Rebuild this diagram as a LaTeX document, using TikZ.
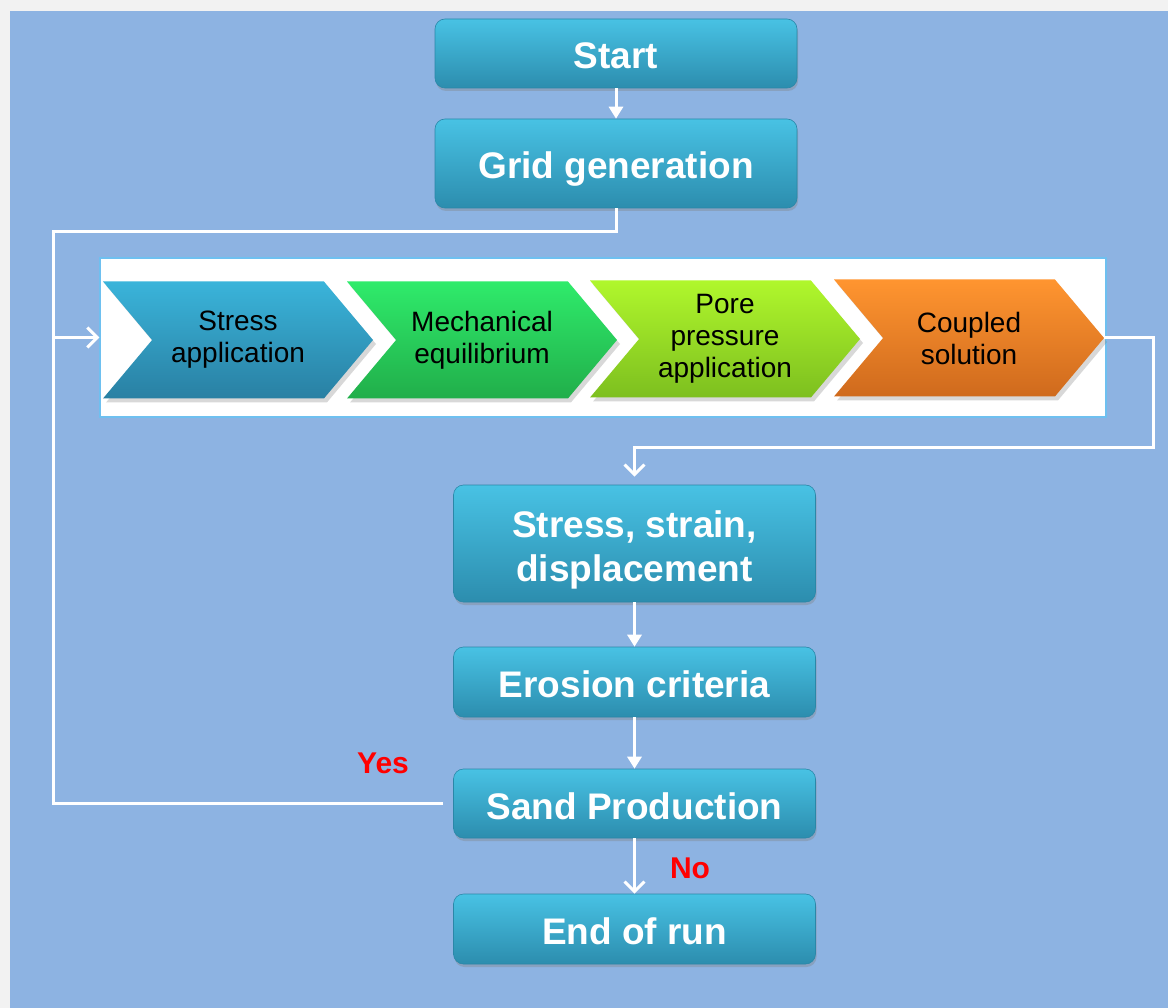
\documentclass[tikz,border=0pt]{standalone}
\usepackage{fontspec}
\setmainfont{Liberation Sans}
\usetikzlibrary{arrows.meta,shapes.symbols,shadows}
\definecolor{pagegray}{HTML}{F2F2F2}
\definecolor{panelblue}{HTML}{8DB3E2}
\definecolor{boxtop}{HTML}{48C2E4}
\definecolor{boxbot}{HTML}{2C8DAE}
\definecolor{boxedge}{HTML}{2A87A8}
\definecolor{stripedge}{HTML}{6EC0F0}
\definecolor{stresstop}{HTML}{3AB4DA}
\definecolor{stressbot}{HTML}{2980A3}
\definecolor{mechtop}{HTML}{2FEB6B}
\definecolor{mechbot}{HTML}{21AE4A}
\definecolor{poretop}{HTML}{B0F72C}
\definecolor{porebot}{HTML}{7DBF1F}
\definecolor{coupledtop}{HTML}{FF9530}
\definecolor{coupledbot}{HTML}{CF6A1D}

\begin{document}
\begin{tikzpicture}[x=1pt,y=-1pt,
  stepbox/.style={rounded corners=10pt, minimum width=362pt, inner sep=0pt, top color=boxtop, bottom color=boxbot, draw=boxedge, line width=0.6pt, text=white, align=center, font=\fontsize{37}{44}\selectfont\bfseries, drop shadow={opacity=0.35,shadow xshift=1pt,shadow yshift=-3pt}},
  oneline/.style={stepbox, text height=31pt, text depth=0pt},
  phase/.style={signal, signal to=east, signal from=west, signal pointer angle=100, minimum width=270pt, minimum height=117pt, inner sep=0pt, align=center, font=\fontsize{28}{32}\selectfont, drop shadow={opacity=0.3,shadow xshift=3pt,shadow yshift=-4pt}},
  flow/.style={white, line width=3pt},
  link/.style={flow, -{Triangle[length=12pt,width=14pt]}},
  back/.style={flow, -{Straight Barb[length=10pt,width=20pt]}},
  answer/.style={text=red, font=\fontsize{30}{36}\selectfont\bfseries}]
  \fill[pagegray] (0,0) rectangle (1168,1008);
  \fill[panelblue] (10,11) rectangle (1168,1008);
  \useasboundingbox (0,0) rectangle (1168,1008);

  \node[oneline, minimum height=69pt] (start) at (616,53.5) {Start};
  \node[oneline, minimum height=89pt] (grid) at (616,163.5) {Grid generation};

  \node[fill=white, draw=stripedge, line width=1.2pt, minimum width=1006pt, minimum height=159pt] (strip) at (603,337.5) {};
  \node[phase, top color=stresstop, bottom color=stressbot] (stressapp) at (238,340) {Stress\\application};
  \node[phase, top color=mechtop, bottom color=mechbot] (mech) at (482,340) {Mechanical\\equilibrium};
  \node[phase, top color=poretop, bottom color=porebot] (pore) at (725,339) {Pore\\pressure\\application};
  \node[phase, top color=coupledtop, bottom color=coupledbot] (coupled) at (969,338) {Coupled\\solution};

  \node[stepbox, minimum height=117pt, text height=83pt, text depth=8pt] (result) at (634.5,543.5) {Stress, strain,\\displacement};
  \node[oneline, minimum height=70pt] (erosion) at (634.5,682) {Erosion criteria};
  \node[oneline, minimum height=69pt] (sand) at (634.5,803.5) {Sand Production};
  \node[oneline, minimum height=70pt] (finish) at (634.5,929) {End of run};

  \coordinate (turn) at (53,232);
  \coordinate (bend) at (1153,447);
  \draw[flow, shorten <=10pt] (sand.west) -| (turn);
  \draw[back] (grid.south) |- (turn) |- (strip.west);
  \draw[back, shorten >=8pt] (coupled.east) -| (bend) -| (result.north);
  \draw[link] (start) -- (grid);
  \draw[link] (result) -- (erosion);
  \draw[link] (erosion) -- (sand);
  \draw[back] (sand) -- (finish);

  \node[answer] (yes) at (383,763) {Yes};
  \node[answer] (no) at (690,868) {No};

\end{tikzpicture}
\end{document}
